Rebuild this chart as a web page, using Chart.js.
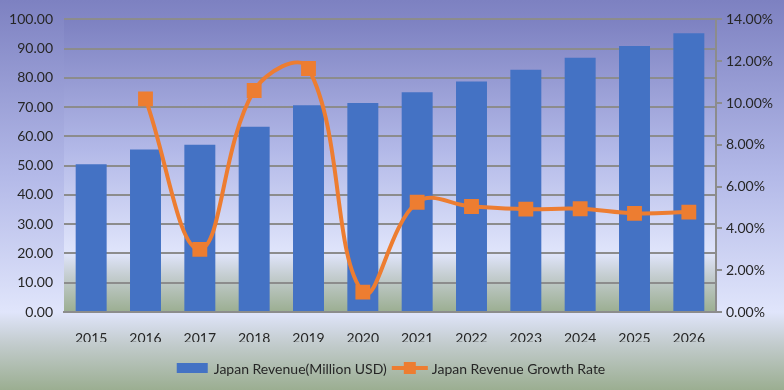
<!DOCTYPE html>
<html>
<head>
<meta charset="utf-8">
<script src="https://cdn.jsdelivr.net/npm/chart.js@4/dist/chart.umd.min.js"></script>
<style>
html,body{margin:0;padding:0;background:#fff;}
#wrap{width:784px;height:390px;position:relative;}
</style>
</head>
<body>
<div id="wrap"><canvas id="c" width="784" height="390"></canvas></div>
<script>
const categories = ['2015','2016','2017','2018','2019','2020','2021','2022','2023','2024','2025','2026'];
const revenue = [50.5, 55.5, 57.2, 63.3, 70.7, 71.4, 75.1, 78.8, 82.8, 86.9, 90.9, 95.3];
const growthRate = [null, 10.2, 3.0, 10.6, 11.65, 0.95, 5.25, 5.05, 4.92, 4.94, 4.72, 4.78];
const revenueLabel = 'Japan Revenue(Million USD)';
const growthLabel = 'Japan Revenue Growth Rate';

const FONT = 'Lato, "Open Sans", sans-serif';
const TXT = '#262626';
const GRID = '#8c8c8c';
const BLUE = '#4472C4';
const ORANGE = '#ED7D31';

function makeGrad(ctx, y0, y1) {
  const g = ctx.createLinearGradient(0, y0, 0, y1);
  g.addColorStop(0, '#7d81c1');
  g.addColorStop(0.45, '#b3b9e8');
  g.addColorStop(0.8, '#e0e5fb');
  g.addColorStop(0.88, '#c3ccce');
  g.addColorStop(1, '#9bae91');
  return g;
}

const bgPlugin = {
  id: 'bg',
  beforeDraw(chart) {
    const ctx = chart.ctx;
    const a = chart.chartArea;
    ctx.save();
    ctx.fillStyle = makeGrad(ctx, 0, chart.height);
    ctx.fillRect(0, 0, chart.width, chart.height);
    ctx.fillStyle = makeGrad(ctx, a.top, a.bottom);
    ctx.fillRect(a.left, a.top, a.right - a.left, a.bottom - a.top);
    ctx.restore();
  }
};

const legendPlugin = {
  id: 'customLegend',
  afterDraw(chart) {
    const ctx = chart.ctx;
    ctx.save();
    ctx.font = '14px ' + FONT;
    ctx.textBaseline = 'middle';
    ctx.fillStyle = TXT;
    const w1 = ctx.measureText(revenueLabel).width;
    const w2 = ctx.measureText(growthLabel).width;
    const boxW = 31, gap1 = 6, spacing = 5, lineW = 36, gap2 = 4;
    const total = boxW + gap1 + w1 + spacing + lineW + gap2 + w2;
    let x = 391 - total / 2;
    const y = 368;
    ctx.fillStyle = BLUE;
    ctx.fillRect(x, y - 5, boxW, 10);
    x += boxW + gap1;
    ctx.fillStyle = TXT;
    ctx.fillText(revenueLabel, x, y + 1);
    x += w1 + spacing;
    ctx.strokeStyle = ORANGE;
    ctx.lineWidth = 4;
    ctx.beginPath();
    ctx.moveTo(x, y);
    ctx.lineTo(x + lineW, y);
    ctx.stroke();
    ctx.fillStyle = ORANGE;
    ctx.fillRect(x + lineW / 2 - 6, y - 6, 12, 12);
    x += lineW + gap2;
    ctx.fillStyle = TXT;
    ctx.fillText(growthLabel, x, y + 1);
    ctx.restore();
  }
};

new Chart(document.getElementById('c'), {
  data: {
    labels: categories,
    datasets: [
      {
        type: 'line',
        label: growthLabel,
        data: growthRate,
        yAxisID: 'y2',
        borderColor: ORANGE,
        backgroundColor: ORANGE,
        borderWidth: 4,
        tension: 0.4,
        pointStyle: 'rect',
        pointRadius: 10.5,
        pointBorderWidth: 0,
        pointBackgroundColor: ORANGE,
        spanGaps: false,
        order: 1
      },
      {
        type: 'bar',
        label: revenueLabel,
        data: revenue,
        yAxisID: 'y',
        backgroundColor: BLUE,
        borderWidth: 0,
        barPercentage: 0.57,
        categoryPercentage: 1.0,
        order: 2
      }
    ]
  },
  options: {
    responsive: false,
    animation: false,
    devicePixelRatio: 1,
    layout: { padding: { top: 15, left: 0, right: 0, bottom: 48 } },
    plugins: {
      legend: { display: false },
      tooltip: { enabled: false }
    },
    scales: {
      x: {
        type: 'category',
        offset: true,
        grid: { display: false },
        border: { display: true, color: GRID, width: 2 },
        ticks: { font: { family: FONT, size: 14 }, color: TXT, padding: 10, maxRotation: 0 },
        afterFit(s) { s.height = 30; }
      },
      y: {
        position: 'left',
        min: 0, max: 100,
        ticks: {
          stepSize: 10,
          font: { family: FONT, size: 14 }, color: TXT, padding: 11,
          callback: v => v.toFixed(2)
        },
        grid: { color: GRID, lineWidth: 2, drawTicks: false },
        border: { display: false },
        afterFit(s) { s.width = 64; }
      },
      y2: {
        position: 'right',
        min: 0, max: 14,
        ticks: {
          stepSize: 2,
          font: { family: FONT, size: 14 }, color: TXT, padding: 4,
          callback: v => v.toFixed(2) + '%'
        },
        grid: { drawOnChartArea: false, drawTicks: true, tickLength: 6, color: GRID, lineWidth: 2 },
        border: { display: true, color: GRID, width: 2 },
        afterFit(s) { s.width = 68; }
      }
    }
  },
  plugins: [bgPlugin, legendPlugin]
});
</script>
</body>
</html>
